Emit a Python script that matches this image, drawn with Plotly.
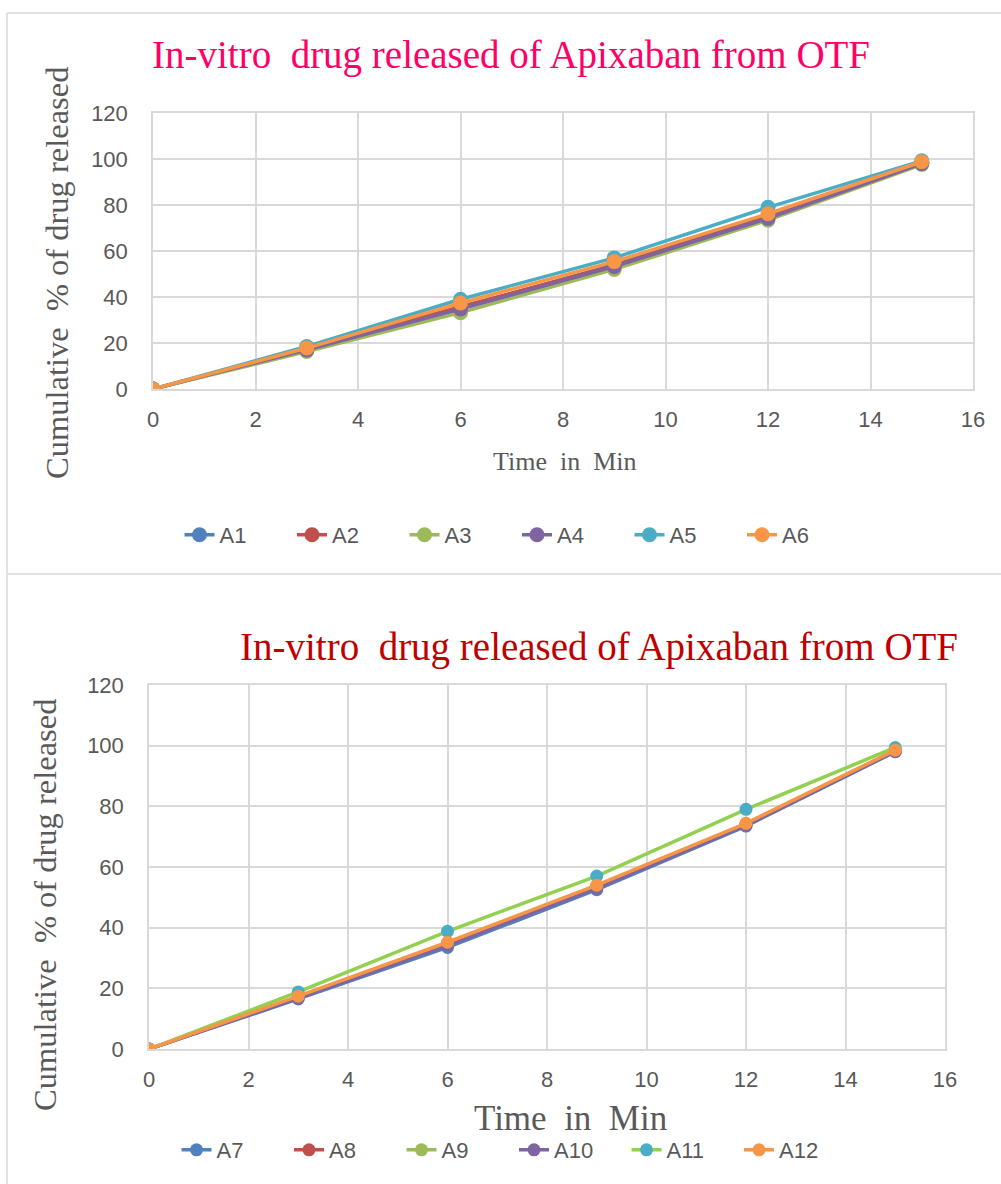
import plotly.graph_objects as go

W, H = 1001, 1184

# Sampling times (min)
time_min = [0, 3, 6, 9, 12, 15]

# Cumulative % drug released, formulations A1-A6
a1 = [0, 17.1, 35.2, 54.0, 75.0, 98.6]
a2 = [0, 17.3, 35.8, 53.6, 74.6, 98.2]
a3 = [0, 16.3, 33.2, 52.0, 73.4, 97.6]
a4 = [0, 17.0, 34.8, 53.2, 74.2, 98.0]
a5 = [0, 18.5, 39.0, 57.0, 79.0, 99.2]
a6 = [0, 17.8, 37.4, 55.4, 76.2, 98.8]

# Cumulative % drug released, formulations A7-A12
a7 = [0, 16.5, 33.5, 52.5, 73.5, 98.0]
a8 = [0, 17.0, 34.5, 53.5, 74.0, 98.2]
a9 = [0, 17.2, 34.8, 53.6, 74.2, 98.4]
a10 = [0, 16.8, 34.2, 53.0, 73.8, 98.1]
a11 = [0, 18.8, 38.8, 57.0, 79.0, 99.4]
a12 = [0, 17.4, 35.2, 54.0, 74.4, 98.5]

names_top = ["A1", "A2", "A3", "A4", "A5", "A6"]
names_bottom = ["A7", "A8", "A9", "A10", "A11", "A12"]

x_ticks = [0, 2, 4, 6, 8, 10, 12, 14, 16]
y_ticks = [0, 20, 40, 60, 80, 100, 120]

title_text = "In-vitro\u00a0 drug released of Apixaban from OTF"
y_title_text = "Cumulative\u00a0 % of drug released"

BLUE, RED, GREEN, PURPLE, CYAN, ORANGE = (
    "#4F81BD", "#C0504D", "#9BBB59", "#8064A2", "#4BACC6", "#F79646")
LIME = "#92D050"
GRID = "#D9D9D9"
TXT = "#595959"


def px(x):
    return x / W


def py(y):
    return 1 - y / H


fig = go.Figure()

top_styles = [(BLUE, BLUE), (RED, RED), (GREEN, GREEN),
              (PURPLE, PURPLE), (CYAN, CYAN), (ORANGE, ORANGE)]
for name, vals, (lc, mc) in zip(names_top, [a1, a2, a3, a4, a5, a6], top_styles):
    fig.add_trace(go.Scatter(
        x=time_min, y=vals, name=name, mode="lines+markers",
        line=dict(color=lc, width=3.5), marker=dict(color=mc, size=15),
        xaxis="x", yaxis="y", legend="legend"))

bottom_styles = [(BLUE, BLUE), (RED, RED), (GREEN, GREEN),
                 (PURPLE, PURPLE), (LIME, CYAN), (ORANGE, ORANGE)]
for name, vals, (lc, mc) in zip(names_bottom, [a7, a8, a9, a10, a11, a12], bottom_styles):
    fig.add_trace(go.Scatter(
        x=time_min, y=vals, name=name, mode="lines+markers",
        line=dict(color=lc, width=3.5), marker=dict(color=mc, size=13),
        xaxis="x2", yaxis="y2", legend="legend2"))

tick_font = dict(family="Liberation Sans", size=22, color=TXT)
common_x = dict(range=[0, 16], tickvals=x_ticks, showgrid=True, gridcolor=GRID,
                gridwidth=1.5, zeroline=False, showline=True, mirror=True,
                linecolor=GRID, linewidth=1.5, tickfont=tick_font, ticks="",
                ticklabelstandoff=10, fixedrange=True)
common_y = dict(range=[0, 120], tickvals=y_ticks, showgrid=True, gridcolor=GRID,
                gridwidth=1.5, zeroline=False, showline=True, mirror=True,
                linecolor=GRID, linewidth=1.5, tickfont=tick_font, ticks="",
                ticklabelstandoff=19, fixedrange=True)

legend_common = dict(orientation="h", xanchor="center", yanchor="middle",
                     font=dict(family="Liberation Sans", size=22, color=TXT),
                     bgcolor="rgba(0,0,0,0)", entrywidth=67.5,
                     entrywidthmode="pixels", itemclick=False)

fig.update_layout(
    width=W, height=H,
    margin=dict(l=0, r=0, t=0, b=0, autoexpand=False),
    paper_bgcolor="white", plot_bgcolor="white",
    showlegend=True,
    xaxis=dict(domain=[px(153), px(973)], anchor="y", **common_x),
    yaxis=dict(domain=[py(389), py(113)], anchor="x", **common_y),
    xaxis2=dict(domain=[px(149), px(945)], anchor="y2", **common_x),
    yaxis2=dict(domain=[py(1049), py(685)], anchor="x2", **common_y),
    legend=dict(x=px(517), y=py(535), **legend_common),
    legend2=dict(x=px(514), y=py(1150), **legend_common),
)

# Chart frames (open towards the right and bottom edges)
frame = dict(color=GRID, width=1.5)
for x0, y0, x1, y1 in [(7, 13, 1001, 13), (7, 13, 7, 574),
                       (7, 574, 1001, 574), (7, 574, 7, 1184)]:
    fig.add_shape(type="line", xref="paper", yref="paper",
                  x0=px(x0), y0=py(y0), x1=px(x1), y1=py(y1),
                  line=frame, layer="below")

serif = "Liberation Serif"

# Chart titles
fig.add_annotation(text=title_text, xref="paper", yref="paper",
                   x=px(511), y=py(55), xanchor="center", yanchor="middle",
                   showarrow=False, font=dict(family=serif, size=39, color="#FF0066"))
fig.add_annotation(text=title_text, xref="paper", yref="paper",
                   x=px(599), y=py(647), xanchor="center", yanchor="middle",
                   showarrow=False, font=dict(family=serif, size=39, color="#C00000"))

# Axis titles
fig.add_annotation(text=y_title_text, xref="paper", yref="paper",
                   x=px(57), y=py(273), xanchor="center", yanchor="middle",
                   textangle=-90, showarrow=False,
                   font=dict(family=serif, size=32.5, color=TXT))
fig.add_annotation(text=y_title_text, xref="paper", yref="paper",
                   x=px(45), y=py(905), xanchor="center", yanchor="middle",
                   textangle=-90, showarrow=False,
                   font=dict(family=serif, size=32.5, color=TXT))
fig.add_annotation(text="Time\u00a0 in\u00a0 Min", xref="paper", yref="paper",
                   x=px(565), y=py(462), xanchor="center", yanchor="middle",
                   showarrow=False, font=dict(family=serif, size=26, color=TXT))
fig.add_annotation(text="Time\u00a0 in\u00a0 Min", xref="paper", yref="paper",
                   x=px(570), y=py(1118), xanchor="center", yanchor="middle",
                   showarrow=False, font=dict(family=serif, size=35, color=TXT))

fig.write_html("out.html")
